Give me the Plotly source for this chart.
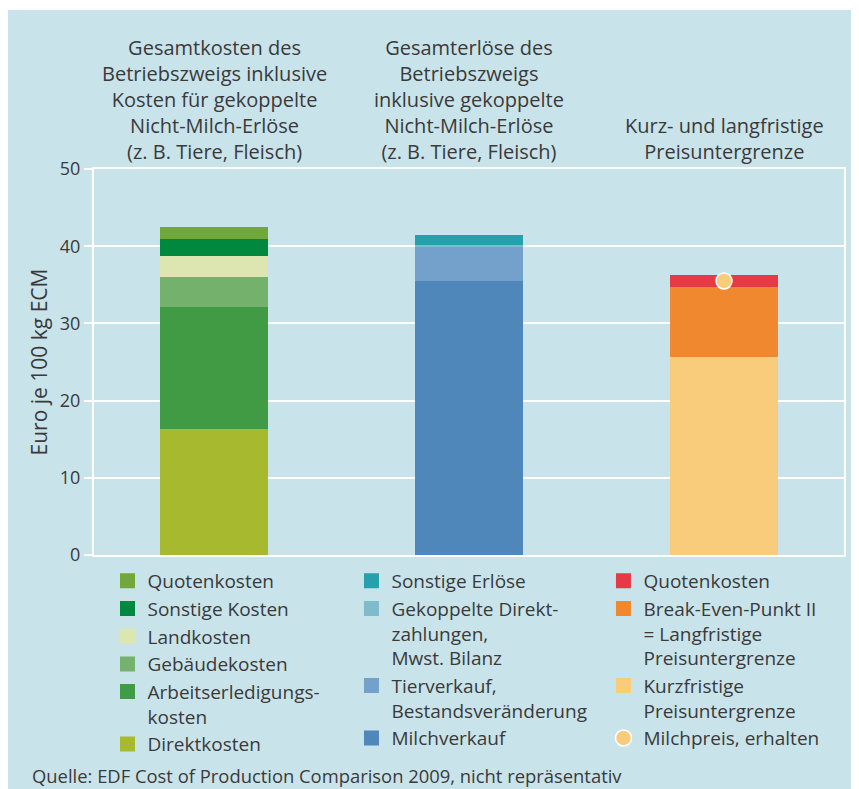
import plotly.graph_objects as go

# ---- data ----
categories = [0, 1, 2]
headers = [
    "Gesamtkosten des<br>Betriebszweigs inklusive<br>Kosten für gekoppelte<br>Nicht-Milch-Erlöse<br>(z. B. Tiere, Fleisch)",
    "Gesamterlöse des<br>Betriebszweigs<br>inklusive gekoppelte<br>Nicht-Milch-Erlöse<br>(z. B. Tiere, Fleisch)",
    "Kurz- und langfristige<br>Preisuntergrenze",
]

# Bar 1: costs (bottom -> top)
cost_names = ["Direktkosten", "Arbeitserledigungs-<br>kosten", "Gebäudekosten",
              "Landkosten", "Sonstige Kosten", "Quotenkosten"]
cost_values = [16.3, 15.8, 3.9, 2.7, 2.2, 1.6]
cost_colors = ["#a6b92f", "#419b45", "#73b16c", "#dde6b1", "#00883f", "#72a73b"]

# Bar 2: revenues (bottom -> top)
rev_names = ["Milchverkauf", "Tierverkauf,<br>Bestandsveränderung",
             "Gekoppelte Direkt-<br>zahlungen,<br>Mwst. Bilanz", "Sonstige Erlöse"]
rev_values = [35.5, 4.4, 0.3, 1.3]
rev_colors = ["#5087bb", "#74a0cc", "#7fbccb", "#26a1ac"]

# Bar 3: price floors (bottom -> top)
floor_names = ["Kurzfristige<br>Preisuntergrenze",
               "Break-Even-Punkt II<br>= Langfristige<br>Preisuntergrenze", "Quotenkosten"]
floor_values = [25.6, 9.1, 1.6]
floor_colors = ["#f9cc7c", "#f08830", "#e63b47"]

milk_price = 35.5
milk_label = "Milchpreis, erhalten"

y_ticks = [0, 10, 20, 30, 40, 50]
y_title = "Euro je 100 kg ECM"
source = "Quelle: EDF Cost of Production Comparison 2009, nicht repräsentativ"

FONT = "Open Sans"
TXT = "#3a3a3a"
BAR_W = 0.424


def add_group(xc, names, values, colors, legend):
    n = len(names)
    for i, (nm, v, c) in enumerate(zip(names, values, colors)):
        fig.add_trace(go.Bar(x=[xc], y=[v], name=nm, marker_color=c,
                             marker_line_width=0, width=BAR_W, showlegend=False,
                             hoverinfo="name+y"))
        # legend proxy with a larger square symbol
        fig.add_trace(go.Scatter(x=[None], y=[None], name=nm, mode="markers",
                                 legend=legend, legendrank=n - i,
                                 marker=dict(symbol="square", size=15, color=c)))


fig = go.Figure()
add_group(categories[0], cost_names, cost_values, cost_colors, "legend")
add_group(categories[1], rev_names, rev_values, rev_colors, "legend2")
add_group(categories[2], floor_names, floor_values, floor_colors, "legend3")
fig.add_trace(go.Scatter(x=[categories[2]], y=[milk_price], name=milk_label,
                         mode="markers", legend="legend3", legendrank=10,
                         marker=dict(size=16, color="#f9cc7c",
                                     line=dict(color="white", width=1.5))))

for xc, h in zip(categories, headers):
    fig.add_annotation(x=xc, xref="x", y=1.006, yref="paper", yanchor="bottom",
                       text=h, showarrow=False, align="center",
                       font=dict(family=FONT, size=20, color=TXT))

fig.add_annotation(x=-0.085, xref="paper", y=-0.5725, yref="paper",
                   xanchor="left", yanchor="middle", text=source, showarrow=False,
                   font=dict(family=FONT, size=18.4, color=TXT))

# outer panel background
fig.add_shape(type="rect", xref="paper", yref="paper", x0=-0.1147, x1=1.05,
              y0=-0.7, y1=1.412, fillcolor="#c9e3ea", line_width=0, layer="below")

leg_common = dict(font=dict(family=FONT, size=19, color=TXT), bgcolor="rgba(0,0,0,0)",
                  yanchor="top", xanchor="left", traceorder="normal", valign="top",
                  itemclick=False, itemdoubleclick=False)
fig.update_layout(
    width=851, height=781,
    margin=dict(l=86, r=15, t=161, b=234),
    paper_bgcolor="white",
    plot_bgcolor="#b1d8df",
    barmode="stack",
    bargap=0,
    font=dict(family=FONT, color=TXT),
    legend=dict(x=0.018, y=-0.018, **leg_common),
    legend2=dict(x=0.3433, y=-0.018, **leg_common),
    legend3=dict(x=0.6793, y=-0.018, **leg_common),
    xaxis=dict(range=[-0.4706, 2.4706], showticklabels=False, showgrid=False,
               zeroline=False, showline=True, linecolor="white", linewidth=2,
               mirror=True, ticks=""),
    yaxis=dict(range=[0, 50], tickvals=y_ticks, showgrid=True, gridcolor="white",
               gridwidth=2, zeroline=False, showline=True, linecolor="white",
               linewidth=2, mirror=True, ticks="outside", ticklen=8,
               tickcolor="white", tickwidth=2,
               tickfont=dict(family=FONT, size=18, color=TXT),
               title=dict(text=y_title, font=dict(family=FONT, size=21, color=TXT),
                          standoff=6)),
)

fig.write_html("out.html")
